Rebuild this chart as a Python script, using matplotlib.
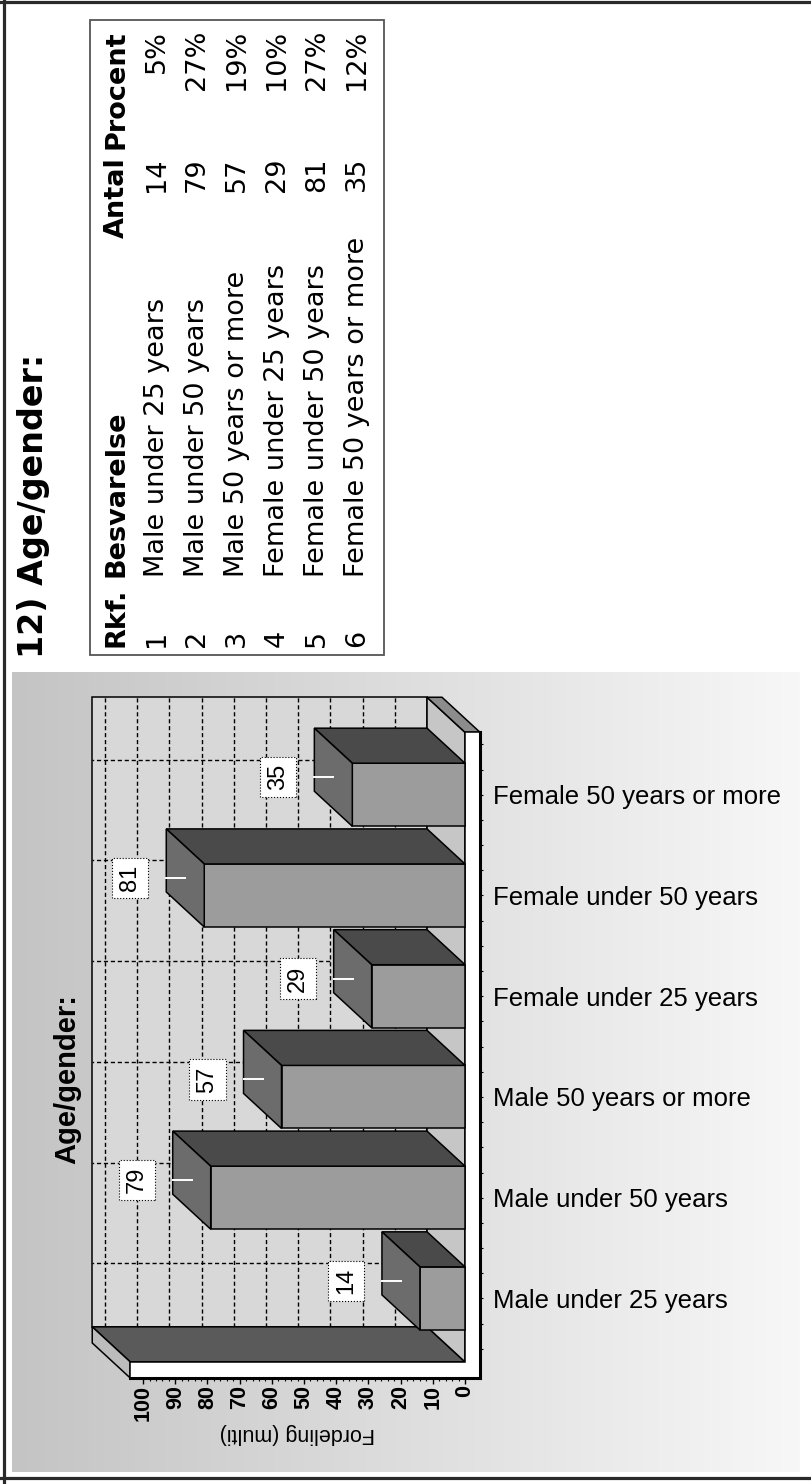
import numpy as np
import matplotlib.pyplot as plt
from matplotlib.colors import LinearSegmentedColormap
from matplotlib.patches import Rectangle

# question 12 answers
rkf = [1, 2, 3, 4, 5, 6]
categories = ['Male under 25 years', 'Male under 50 years', 'Male 50 years or more',
              'Female under 25 years', 'Female under 50 years', 'Female 50 years or more']
antal = [14, 79, 57, 29, 81, 35]
value_ticks = [0, 10, 20, 30, 40, 50, 60, 70, 80, 90, 100]

total = sum(antal)
procent = ['%d%%' % round(100 * a / total) for a in antal]

W, H = 812, 1484
fig = plt.figure(figsize=(W / 100, H / 100), dpi=100)

# page layer in pixel units (y downwards), the chart is printed sideways
page = fig.add_axes([0, 0, 1, 1])
page.axis('off')
bg = LinearSegmentedColormap.from_list('bg', ['#c4c4c4', '#f7f7f7'])
page.imshow(np.linspace(0, 1, 256)[None, :], extent=(12, 800, 1472, 672),
            cmap=bg, aspect='auto', zorder=0)
page.set_xlim(0, W)
page.set_ylim(H, 0)

# page frame
for xs, ys in [([4, 4], [0, H]), ([0, W], [2, 2]), ([0, W], [1478, 1478])]:
    page.plot(xs, ys, color='#2a2a2a', lw=2.3)

# title + table
page.text(34, 658, '12) Age/gender:', rotation=90, rotation_mode='anchor', ha='left',
          va='center', fontsize=24, weight='bold', family='DejaVu Sans')
page.add_patch(Rectangle((90, 20), 294, 635, fill=False, ec='#555555', lw=1.3))

tbl = dict(rotation=90, rotation_mode='anchor', va='center', family='DejaVu Sans', fontsize=19.5)
col_y = [647, 577, 157, 30]
header = ['Rkf.', 'Besvarelse', 'Antal', 'Procent']
aligns = ['left', 'left', 'right', 'right']
for txt, y, ha in zip(header, col_y, aligns):
    page.text(117, y, txt, ha=ha, weight='bold', **tbl)
for k in range(len(rkf)):
    x = 157 + 40 * k
    row = [str(rkf[k]), categories[k], str(antal[k]), procent[k]]
    for txt, y, ha in zip(row, col_y, aligns):
        page.text(x, y, txt, ha=ha, **tbl)

page.text(67, 1079, 'Age/gender:', rotation=90, ha='center', va='center',
          fontsize=21, weight='bold', family='Liberation Sans')

# chart axes: x = value (grows to the left), y = category
ax = fig.add_axes([80 / W, 1 - 1378 / H, 400 / W, 688 / H])
ax.set_facecolor('none')
ax.set_xlim(119.6, -4.66)
ax.set_ylim(-0.79, 6.04)

VMAX = 104          # wall height
DV, DC = 11.8, 0.348  # depth offset
FT = 4.66           # floor thickness
WT = 0.16           # wall thickness
LO, HI = -0.63, 5.62
HW = 0.313          # half bar width

edge = dict(ec='black', lw=1.1)

# back wall with grid
ax.fill([DV, VMAX + DV, VMAX + DV, DV], [LO + DC, LO + DC, HI + DC, HI + DC],
        fc='#d8d8d8', zorder=1, **edge)
for t in value_ticks[1:]:
    ax.plot([t + DV] * 2, [LO + DC, HI + DC], color='black', lw=1, ls=(0, (3, 2)), zorder=1.5)
for i in range(len(categories)):
    ax.plot([DV, VMAX + DV], [i + DC] * 2, color='black', lw=1, ls=(0, (3, 2)), zorder=1.5)

# side wall, floor and their front edges
ax.fill([0, VMAX, VMAX + DV, DV], [LO, LO, LO + DC, LO + DC], fc='#5a5a5a', zorder=2, **edge)
ax.fill([VMAX, VMAX, VMAX + DV, VMAX + DV], [LO - WT, LO, LO + DC, LO - WT + DC],
        fc='#bcbcbc', zorder=2, **edge)
ax.fill([0, 0, DV, DV], [LO, HI, HI + DC, LO + DC], fc='#c6c6c6', zorder=2, **edge)
ax.fill([0, -FT, -FT + DV, DV], [HI, HI, HI + DC, HI + DC], fc='#8c8c8c', zorder=2, **edge)
ax.fill([VMAX, -FT, -FT, 0, 0, VMAX], [LO - WT, LO - WT, HI, HI, LO, LO],
        fc='white', zorder=3, clip_on=False, **edge)

# bars: front face + side face + top face
ypos = np.arange(len(categories))
ax.barh(ypos, antal, height=2 * HW, left=0, color='#9c9c9c', zorder=5, **edge)
for i, v in zip(ypos, antal):
    ax.fill([0, v, v + DV, DV], [i + HW, i + HW, i + HW + DC, i + HW + DC],
            fc='#4a4a4a', zorder=5, **edge)
    ax.fill([v, v, v + DV, v + DV], [i - HW, i + HW, i + HW + DC, i - HW + DC],
            fc='#6c6c6c', zorder=5, **edge)
    ax.plot([v + DV / 2, v + DV], [i + DC / 2] * 2, color='white', lw=1.4, zorder=6)
    ax.text(v + 23, i + DC / 2, str(v), rotation=90, ha='center', va='center',
            fontsize=17, family='Liberation Sans', zorder=7,
            bbox=dict(boxstyle='square,pad=0.3', fc='white', ec='black', lw=0.8, ls=':'))

# axes
for s in ['top', 'left']:
    ax.spines[s].set_visible(False)
for s in ['bottom', 'right']:
    ax.spines[s].set_linewidth(2.2)
    ax.spines[s].set_zorder(8)
ax.spines['bottom'].set_bounds(VMAX, -FT)
ax.spines['right'].set_bounds(LO - WT, HI)

ax.set_xticks(value_ticks)
ax.set_xticklabels([str(t) for t in value_ticks], rotation=90, fontsize=15.5,
                   fontweight='bold', family='Liberation Sans')
ax.set_xticks(np.arange(0, 101, 2), minor=True)
ax.tick_params(axis='x', which='major', length=4, width=1, pad=1)
ax.tick_params(axis='x', which='minor', length=2.5, width=0.8)

ax.yaxis.tick_right()
ax.set_yticks(ypos)
ax.set_yticklabels(categories, fontsize=18.5, family='Liberation Sans')
ax.set_yticks(np.arange(-0.5, 5.6, 0.25), minor=True)
ax.tick_params(axis='y', which='both', length=2.2, width=0.8, pad=7)

ax.set_xlabel('Fordeling (multi)', rotation=180, fontsize=15.5, family='Liberation Sans')
ax.xaxis.set_label_coords((297 - 80) / 400, (1378 - 1423) / 688)

fig.savefig('out.png', dpi=100, facecolor='white')
